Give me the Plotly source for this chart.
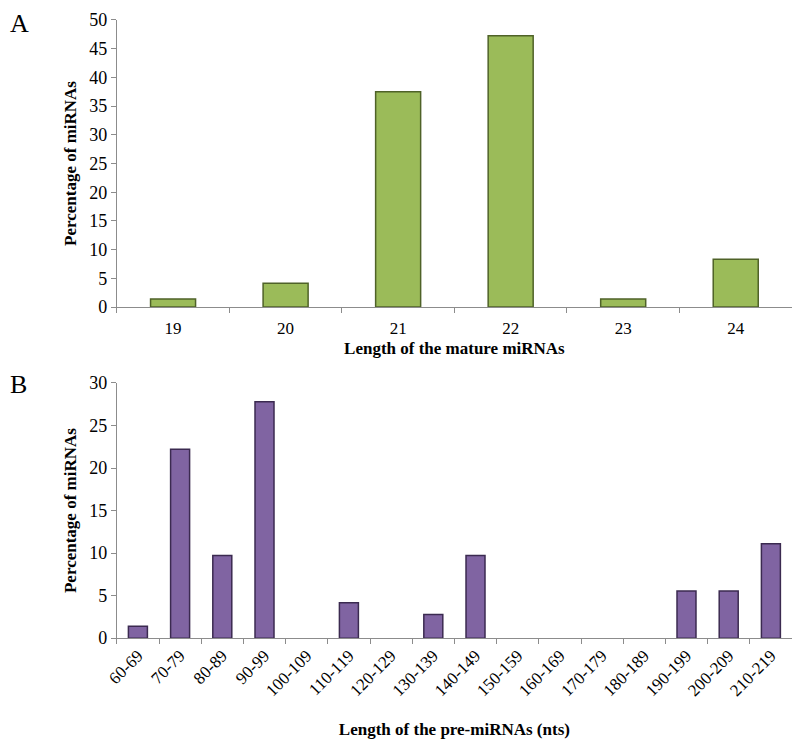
import plotly.graph_objects as go

# panel A: mature miRNA lengths
mature_len = ["19", "20", "21", "22", "23", "24"]
mature_pct = [1.39, 4.17, 37.5, 47.22, 1.39, 8.33]

# panel B: pre-miRNA lengths
pre_len = ["60-69", "70-79", "80-89", "90-99", "100-109", "110-119", "120-129",
           "130-139", "140-149", "150-159", "160-169", "170-179", "180-189",
           "190-199", "200-209", "210-219"]
pre_pct = [1.39, 22.22, 9.72, 27.78, 0, 4.17, 0, 2.78, 9.72, 0, 0, 0, 0,
           5.56, 5.56, 11.11]

serif = "Liberation Serif, Times New Roman, serif"
axis_col = "#8c8c8c"

fig = go.Figure()

fig.add_trace(go.Bar(
    x=mature_len, y=mature_pct, width=0.4,
    marker=dict(color="#9bbb59", line=dict(color="#4f6228", width=1.5)),
    xaxis="x", yaxis="y", showlegend=False,
))
# empty bins get no outline so they stay invisible
fig.add_trace(go.Bar(
    x=pre_len, y=pre_pct, width=0.45,
    marker=dict(color="#8064a2",
                line=dict(color="#3b2a50",
                          width=[1.5 if v > 0 else 0 for v in pre_pct])),
    xaxis="x2", yaxis="y2", showlegend=False,
))

common_x = dict(
    showline=True, linecolor=axis_col, linewidth=1, automargin=False,
    ticks="outside", tickcolor=axis_col, ticklen=5, tickson="boundaries",
    showgrid=False, zeroline=False,
)
common_y = dict(
    showline=True, linecolor=axis_col, linewidth=1, automargin=False,
    ticks="outside", tickcolor=axis_col, ticklen=5,
    showgrid=False, zeroline=False,
    tickfont=dict(family=serif, size=18, color="black"),
)
title_font = dict(family=serif, size=17)

# page body adds an 8px offset, domains are shifted to compensate
fig.update_layout(
    width=800, height=744,
    margin=dict(l=0, r=0, t=0, b=0),
    paper_bgcolor="white", plot_bgcolor="white",
    font=dict(family=serif, color="black"),
    xaxis=dict(domain=[0.136, 0.98], anchor="y", **common_x,
               ticklabelstandoff=6,
               tickfont=dict(family=serif, size=17, color="black"),
               title=dict(text="<b>Length of the mature miRNAs</b>",
                          font=title_font, standoff=4)),
    yaxis=dict(domain=[0.598, 0.984], anchor="x", range=[0, 50], dtick=5,
               **common_y,
               title=dict(text="<b>Percentage of miRNAs</b>",
                          font=title_font, standoff=8)),
    xaxis2=dict(domain=[0.136, 0.98], anchor="y2", tickangle=-45, **common_x,
                tickfont=dict(family=serif, size=17, color="black"),
                title=dict(text="<b>Length of the pre-miRNAs (nts)</b>",
                           font=title_font, standoff=24)),
    yaxis2=dict(domain=[0.153, 0.496], anchor="x2", range=[0, 30], dtick=5,
                **common_y,
                title=dict(text="<b>Percentage of miRNAs</b>",
                           font=title_font, standoff=8)),
    annotations=[
        dict(text="A", x=0.0, y=0.979, xref="paper", yref="paper",
             showarrow=False, xanchor="left", yanchor="middle",
             font=dict(family=serif, size=26)),
        dict(text="B", x=0.0, y=0.494, xref="paper", yref="paper",
             showarrow=False, xanchor="left", yanchor="middle",
             font=dict(family=serif, size=26)),
    ],
)

fig.write_html("out.html")
